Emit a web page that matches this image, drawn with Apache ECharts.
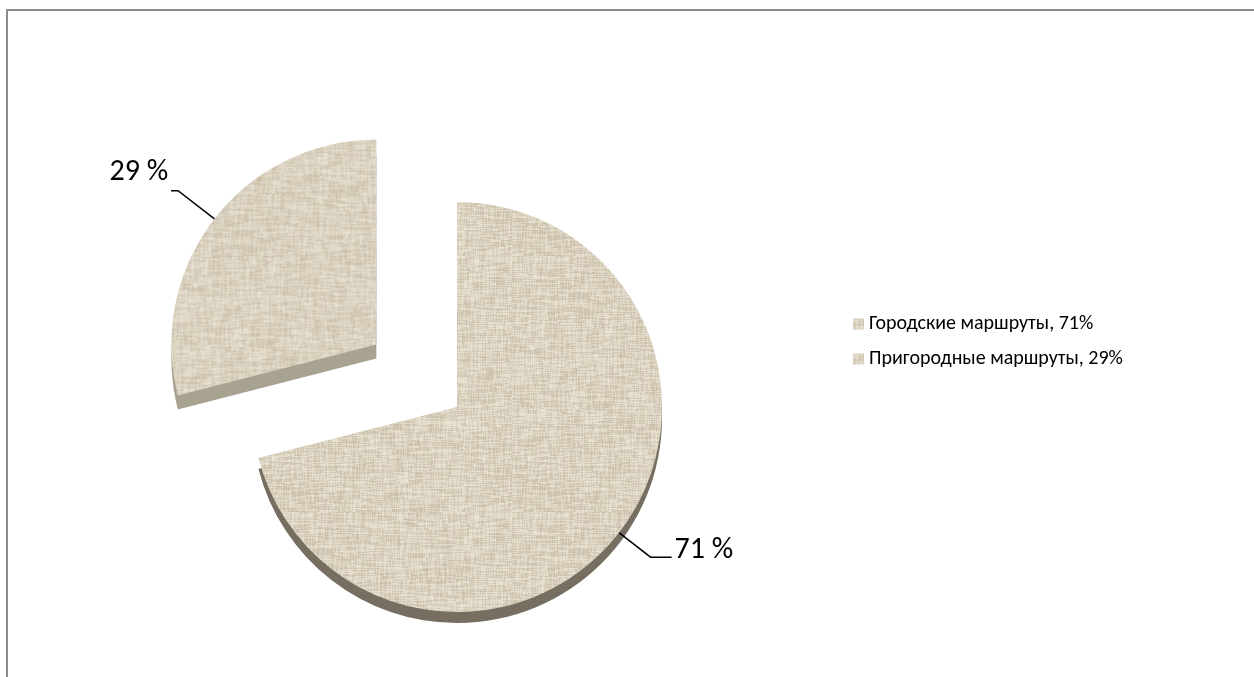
<!DOCTYPE html>
<html>
<head>
<meta charset="utf-8">
<script src="https://cdn.jsdelivr.net/npm/echarts@6/dist/echarts.min.js"></script>
<style>
  html, body { margin: 0; padding: 0; background: #ffffff; }
  #chart { width: 1254px; height: 677px; }
</style>
</head>
<body>
<div id="chart"></div>
<script>
// Route categories and their share of all routes, in percent
const routeTypes = ['Городские маршруты', 'Пригородные маршруты'];
const routeShares = [71, 29];
// Which slice is pulled out of the pie
const explodedIndex = 1;

const FONT = 'Carlito, Calibri, Lato, "Noto Sans", sans-serif';

// Woven linen fill used for the pie faces and legend swatches
function makeLinen(size) {
  const c = document.createElement('canvas');
  c.width = c.height = size;
  const g = c.getContext('2d');
  g.fillStyle = '#dcd3c1';
  g.fillRect(0, 0, size, size);
  let s = 20240611;
  const next = () => { s = (s * 1103515245 + 12345) & 0x7fffffff; return s / 0x7fffffff; };
  const tone = () => next() > 0.5
    ? 'rgba(244,239,227,' + (0.10 + 0.30 * next()).toFixed(3) + ')'
    : 'rgba(172,158,130,' + (0.05 + 0.18 * next()).toFixed(3) + ')';
  // warp threads
  for (let x = 0; x < size; x++) {
    let y = 0;
    while (y < size) {
      const len = 3 + Math.floor(next() * 16);
      g.fillStyle = tone();
      g.fillRect(x, y, 1, len);
      y += len;
    }
  }
  // weft threads
  for (let y = 0; y < size; y++) {
    let x = 0;
    while (x < size) {
      const len = 3 + Math.floor(next() * 16);
      g.fillStyle = tone();
      g.fillRect(x, y, len, 1);
      x += len;
    }
  }
  return c;
}

const linen = makeLinen(256);
const faceFill = { image: linen, repeat: 'repeat' };
const sideColors = ['#766f61', '#a8a291'];

const PIE_CENTER = [457, 407];
const PIE_RADIUS = 205;
const EXPLODE = 102;

// Per-slice leader line lengths
const labelLines = [
  { length: 40, length2: 21 },
  { length: 46, length2: 7 }
];

function pieData(colorFor, withLabels) {
  return routeTypes.map((name, i) => {
    const item = {
      name: name,
      value: routeShares[i],
      selected: i === explodedIndex,
      itemStyle: { color: colorFor(i), borderWidth: 0 }
    };
    if (withLabels) item.labelLine = labelLines[i];
    return item;
  });
}

// Thickness of the disc: a darker copy dropped below the top face
function sidePie(idx, drop) {
  return {
    type: 'pie',
    z: 1,
    silent: true,
    animation: false,
    center: [PIE_CENTER[0], PIE_CENTER[1] + drop],
    radius: PIE_RADIUS,
    startAngle: 90,
    clockwise: true,
    selectedMode: 'single',
    selectedOffset: EXPLODE,
    label: { show: false },
    labelLine: { show: false },
    data: pieData(i => (i === idx ? sideColors[i] : 'rgba(0,0,0,0)'), false)
  };
}

const chart = echarts.init(document.getElementById('chart'), null, { renderer: 'canvas' });

chart.setOption({
  animation: false,
  backgroundColor: '#ffffff',
  graphic: [{
    type: 'rect',
    silent: true,
    shape: { x: 7, y: 10, width: 1400, height: 800 },
    style: { fill: 'none', stroke: '#8c8c8c', lineWidth: 2 }
  }],
  legend: {
    orient: 'vertical',
    left: 848,
    top: 309,
    icon: 'rect',
    itemWidth: 11,
    itemHeight: 11,
    itemGap: 15,
    selectedMode: false,
    data: routeTypes,
    textStyle: { fontFamily: FONT, fontSize: 20, color: '#000000' },
    formatter: name => name + ', ' + routeShares[routeTypes.indexOf(name)] + '%'
  },
  series: [
    {
      type: 'pie',
      z: 3,
      silent: true,
      animation: false,
      center: PIE_CENTER,
      radius: PIE_RADIUS,
      startAngle: 90,
      clockwise: true,
      avoidLabelOverlap: false,
      selectedMode: 'single',
      selectedOffset: EXPLODE,
      label: {
        show: true,
        position: 'outside',
        // an empty spacer line under the value lifts the text above its leader line
        formatter: p => '{t|' + p.value + ' %}\n{g' + p.dataIndex + '| }',
        fontFamily: FONT,
        fontSize: 30,
        color: '#000000',
        distanceToLabelLine: 3,
        rich: {
          t: { fontFamily: FONT, fontSize: 30, lineHeight: 32, color: '#000000' },
          g0: { fontSize: 4, height: 14, lineHeight: 14 },
          g1: { fontSize: 4, height: 36, lineHeight: 36 }
        }
      },
      labelLine: {
        show: true,
        lineStyle: { color: '#000000', width: 1.5 }
      },
      data: pieData(() => faceFill, true)
    },
    sidePie(0, 11),
    sidePie(1, 14)
  ]
});
</script>
</body>
</html>
